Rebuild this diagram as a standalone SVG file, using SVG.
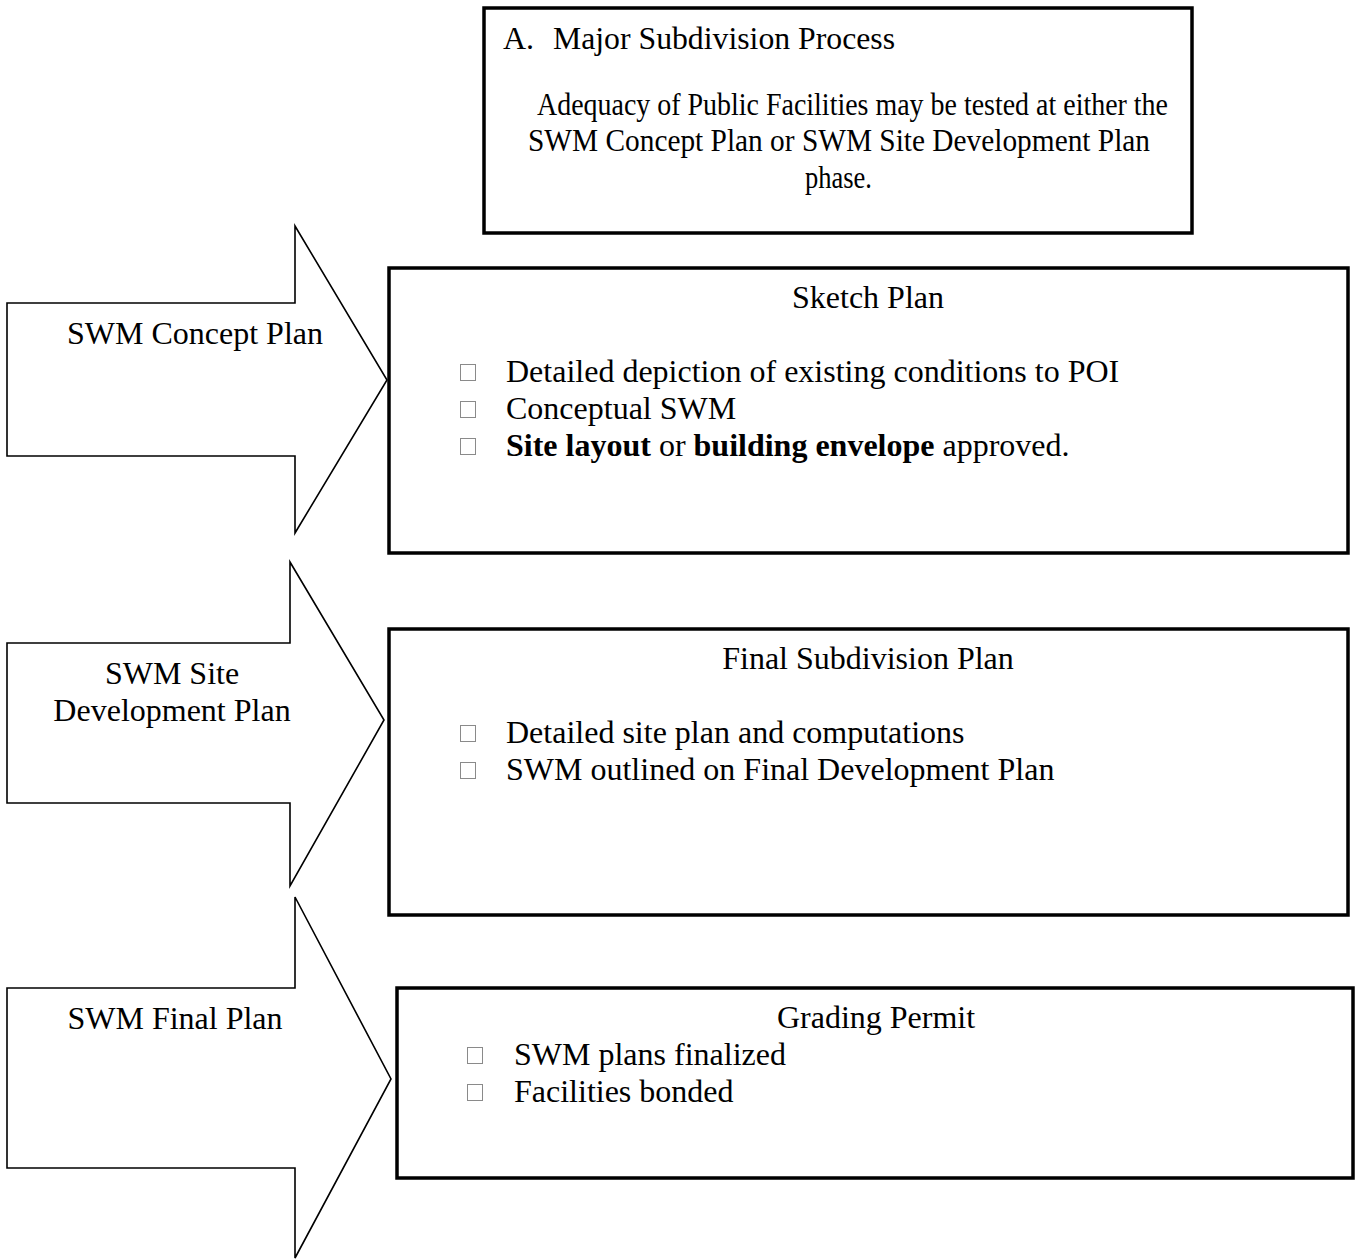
<svg xmlns="http://www.w3.org/2000/svg" width="1356" height="1259" viewBox="0 0 1356 1259">
<style>
.box{fill:#fff;stroke:#000;stroke-width:3.5}
.arrow{fill:#fff;stroke:#000;stroke-width:1.6;stroke-linejoin:miter}
text{font-family:"Liberation Serif","Times New Roman",serif;font-size:32px;fill:#000}
.c{text-anchor:middle}
.b{font-weight:bold}
.tofu{fill:none;stroke:#8a8a8a;stroke-width:1}
</style>
<rect width="1356" height="1259" fill="#fff"/>
<g id="connectors">
<polygon id="arrow1" class="arrow" points="7,303 295,303 295,226 387,380 295,533 295,456 7,456"/>
<polygon id="arrow2" class="arrow" points="7,643 290,643 290,562 384,720 290,886 290,803 7,803"/>
<polygon id="arrow3" class="arrow" points="7,988 295,988 295,897 391,1079 295,1258 295,1168 7,1168"/>
</g>
<g id="label1"><text class="c" x="195" y="344">SWM Concept Plan</text></g>
<g id="label2"><text class="c" x="172" y="684">SWM Site</text><text class="c" x="172" y="721">Development Plan</text></g>
<g id="label3"><text class="c" x="175" y="1029">SWM Final Plan</text></g>
<g id="header">
<rect class="box" x="484" y="8" width="708" height="225"/>
<text x="503" y="49">A.</text>
<text x="553" y="49" textLength="342" lengthAdjust="spacingAndGlyphs">Major Subdivision Process</text>
<text x="537" y="115" textLength="631" lengthAdjust="spacingAndGlyphs">Adequacy of Public Facilities may be tested at either the</text>
<text x="528" y="151" textLength="622" lengthAdjust="spacingAndGlyphs">SWM Concept Plan or SWM Site Development Plan</text>
<text x="805" y="188" textLength="67" lengthAdjust="spacingAndGlyphs">phase.</text>
</g>
<g id="sketch">
<rect class="box" x="389" y="268" width="959" height="285"/>
<text class="c" x="868" y="308">Sketch Plan</text>
<rect class="tofu" x="460.5" y="364.5" width="15" height="16"/>
<rect class="tofu" x="460.5" y="401.5" width="15" height="16"/>
<rect class="tofu" x="460.5" y="438.5" width="15" height="16"/>
<text x="506" y="382">Detailed depiction of existing conditions to POI</text>
<text x="506" y="419">Conceptual SWM</text>
<text x="506" y="456"><tspan class="b">Site layout</tspan> or <tspan class="b">building envelope</tspan> approved.</text>
</g>
<g id="final">
<rect class="box" x="389" y="629" width="959" height="286"/>
<text class="c" x="868" y="669">Final Subdivision Plan</text>
<rect class="tofu" x="460.5" y="725.5" width="15" height="16"/>
<rect class="tofu" x="460.5" y="762.5" width="15" height="16"/>
<text x="506" y="743">Detailed site plan and computations</text>
<text x="506" y="780">SWM outlined on Final Development Plan</text>
</g>
<g id="grading">
<rect class="box" x="397" y="988" width="956" height="190"/>
<text class="c" x="876" y="1028">Grading Permit</text>
<rect class="tofu" x="467.5" y="1047.5" width="15" height="16"/>
<rect class="tofu" x="467.5" y="1084.5" width="15" height="16"/>
<text x="514" y="1065">SWM plans finalized</text>
<text x="514" y="1102">Facilities bonded</text>
</g>
</svg>
